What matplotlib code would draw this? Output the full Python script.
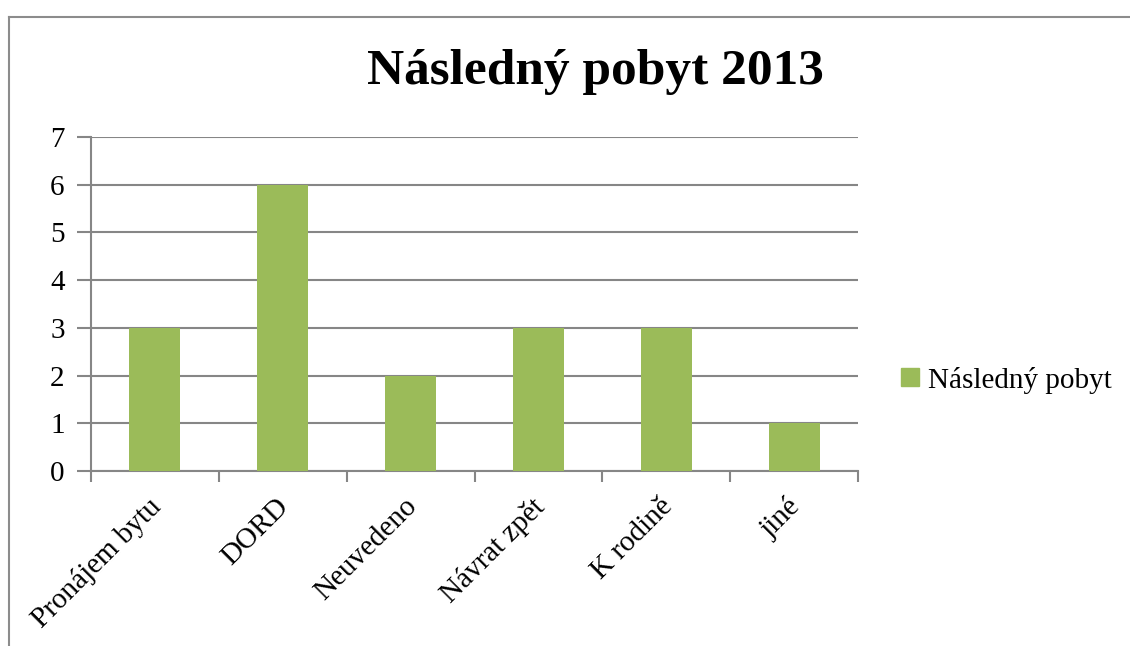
import matplotlib
matplotlib.use('Agg')
import matplotlib.pyplot as plt
import matplotlib.transforms as mtransforms
import numpy as np
from matplotlib.lines import Line2D
from matplotlib.patches import Patch

categories = ['Pronájem bytu', 'DORD', 'Neuvedeno', 'Návrat zpět', 'K rodině', 'jiné']
values = [3, 6, 2, 3, 3, 1]
series_name = 'Následný pobyt'
title = 'Následný pobyt 2013'

plt.rcParams['font.family'] = ['Liberation Serif', 'DejaVu Serif']
bar_color = '#9BBB59'
grid_color = '#868686'

fig = plt.figure(figsize=(11.3, 6.46), dpi=100)
W, H = 1130, 646
ax = fig.add_axes([91 / W, 1 - 471 / H, (858 - 91) / W, (471 - 137) / H])

x = np.arange(len(categories))
ax.bar(x, values, width=0.4, color=bar_color, zorder=3)

ax.set_xlim(-0.5, len(categories) - 0.5)
ax.set_ylim(0, 7)
ax.set_yticks(range(0, 8))
ax.yaxis.grid(True, color=grid_color, linewidth=1.5, zorder=0)
ax.set_xticks(np.arange(len(categories) + 1) - 0.5)
ax.set_xticklabels([])
ax.set_xticks(x, minor=True)
ax.set_xticklabels(categories, minor=True, rotation=45, ha='right',
                   rotation_mode='anchor', fontsize=21)
ax.tick_params(axis='x', which='minor', length=0, pad=16)
ax.tick_params(axis='x', which='major', length=8, width=1.5, color=grid_color)
ax.tick_params(axis='y', length=10, width=1.5, color=grid_color, labelsize=21, pad=9)
# nudge rotated labels a little to the left
shift = mtransforms.ScaledTranslation(-7 / 100, 0, fig.dpi_scale_trans)
for lbl in ax.get_xticklabels(minor=True):
    lbl.set_transform(lbl.get_transform() + shift)
for s in ['top', 'right']:
    ax.spines[s].set_visible(False)
for s in ['left', 'bottom']:
    ax.spines[s].set_color(grid_color)
    ax.spines[s].set_linewidth(1.5)

fig.text(595 / W, 1 - 72 / H, title, ha='center', va='center',
         fontsize=37, fontweight='bold')

fig.legend(handles=[Patch(color=bar_color, label=series_name)],
           loc='center left', bbox_to_anchor=(875 / W, 1 - 380 / H),
           frameon=False, fontsize=21, handlelength=0.6, handleheight=0.6,
           handletextpad=0.3)

# outer chart border (cropped on right and bottom)
fig.add_artist(Line2D([9 / W, 9 / W], [0, 1 - 17 / H], color='#8c8c8c', lw=1.5,
                      transform=fig.transFigure))
fig.add_artist(Line2D([9 / W, 1], [1 - 17 / H, 1 - 17 / H], color='#8c8c8c', lw=1.5,
                      transform=fig.transFigure))

fig.savefig('out.png', dpi=100)
